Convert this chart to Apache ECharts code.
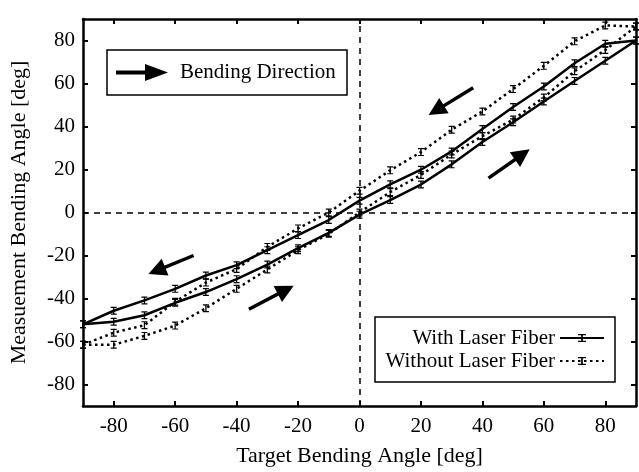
<!DOCTYPE html>
<html><head><meta charset="utf-8">
<script src="https://cdn.jsdelivr.net/npm/echarts@6/dist/echarts.min.js"></script>
<style>html,body{margin:0;padding:0;background:#fff}#c{width:639px;height:472px}</style>
</head><body><div id="c"></div>
<script>
// Target bending angles [deg]
const angles = [-90,-80,-70,-60,-50,-40,-30,-20,-10,0,10,20,30,40,50,60,70,80,90];
// With laser fiber: bending in + direction (lower branch) and - direction (upper branch)
const withFiberUp   = [-52,-50.8,-47.8,-42,-37,-31,-24.2,-16.6,-9.5,-1,5.8,13,22.4,32.8,42,51.6,61.2,70.6,80];
const withFiberDown = [-52,-45.7,-40.9,-35.5,-29.3,-24.5,-17.5,-10.5,-3.5,5.5,13.1,19.9,28.4,38.8,49.1,58.6,69.4,78.5,80];
// Without laser fiber
const withoutFiberUp   = [-61.5,-61.5,-57.4,-52.6,-44.5,-35.5,-26.5,-17.5,-9.9,0,9.5,17.5,27,35.5,43.2,53.5,65.7,75.6,86.5];
const withoutFiberDown = [-61.5,-55.9,-52.4,-41.5,-32.6,-26.3,-16,-7.4,0,10.1,19.6,28.1,38.5,47,57.4,68.2,79.6,87,86.5];
// Axis ticks
const xTicks = [-80,-60,-40,-20,0,20,40,60,80];
const yTicks = [-80,-60,-40,-20,0,20,40,60,80];
// Direction arrows [start, end] in data coordinates
const arrows = [
  [[37,58],[25,47.5]],
  [[42,16],[53,27]],
  [[-54,-20],[-66,-27]],
  [[-36,-45],[-24,-36]]
];
const names = ['With Laser Fiber','Without Laser Fiber'];

const FONT = '"Liberation Serif", "Times New Roman", serif';
const ibeam = 'path://M0,0H7V1.5H4.25V8.5H7V10H0V8.5H2.75V1.5H0Z';
const pair = (ys) => angles.map((a,i)=>[a, ys[i]]);

const axisCommon = {
  type:'value', min:-90, max:90,
  axisLine:{show:true, onZero:false, lineStyle:{color:'#000', width:2.5}},
  splitLine:{show:false}
};
function mkX(pos, show){
  return Object.assign({}, axisCommon, {
    position:pos,
    axisTick:{show:true, inside:true, length:5, customValues:xTicks, lineStyle:{color:'#000', width:2}},
    axisLabel:{show:show, customValues:xTicks, fontFamily:FONT, fontSize:21, color:'#000', margin:10},
    name: show ? 'Target Bending Angle [deg]' : '',
    nameLocation:'middle', nameGap:39,
    nameTextStyle:{fontFamily:FONT, fontSize:22, color:'#000'}
  });
}
function mkY(pos, show){
  return Object.assign({}, axisCommon, {
    position:pos,
    axisTick:{show:true, inside:true, length:5, customValues:yTicks, lineStyle:{color:'#000', width:2}},
    axisLabel:{show:show, customValues:yTicks, fontFamily:FONT, fontSize:21, color:'#000', margin:8},
    name: show ? 'Measuement Bending Angle [deg]' : '',
    nameLocation:'middle', nameGap:53,
    nameTextStyle:{fontFamily:FONT, fontSize:22, color:'#000'}
  });
}

function lineSeries(name, ys, dotted){
  return {
    type:'line', name:name, data:pair(ys),
    symbol:ibeam, symbolSize:[6,8], showAllSymbol:true,
    itemStyle:{color:'#000'},
    lineStyle:{color:'#000', width:2.5, type: dotted ? [2.5,3.5] : 'solid'},
    emphasis:{disabled:true}, animation:false, z:3
  };
}

const series = [
  lineSeries(names[0], withFiberUp, false),
  lineSeries(names[0], withFiberDown, false),
  lineSeries(names[1], withoutFiberUp, true),
  lineSeries(names[1], withoutFiberDown, true)
];
series[0].markLine = {
  silent:true, symbol:'none', label:{show:false}, animation:false,
  lineStyle:{color:'#000', width:1.5, type:[6,5]},
  data:[{xAxis:0},{yAxis:0}]
};
series[1].markLine = {
  silent:true, symbol:['none','triangle'], symbolSize:18, label:{show:false}, animation:false,
  lineStyle:{color:'#000', width:3.5, type:'solid'},
  data: arrows.map(a => [{coord:a[0]},{coord:a[1]}])
};

const chart = echarts.init(document.getElementById('c'), null, {renderer:'canvas'});
chart.setOption({
  animation:false,
  backgroundColor:'#fff',
  grid:{left:81, right:3, top:19, bottom:64},
  xAxis:[mkX('bottom', true), mkX('top', false)],
  yAxis:[mkY('left', true), mkY('right', false)],
  legend:{
    data:names, orient:'vertical', left:375, top:317, align:'right',
    itemWidth:44, itemHeight:10, itemGap:1, padding:[10,10,10,8],
    borderColor:'#000', borderWidth:1.5, selectedMode:false,
    textStyle:{fontFamily:FONT, fontSize:21, lineHeight:22, color:'#000', width:172, align:'right'}
  },
  graphic:[
    {type:'rect', shape:{x:107, y:50, width:240, height:45}, style:{fill:'none', stroke:'#000', lineWidth:1.5}},
    {type:'line', shape:{x1:116, y1:72.5, x2:150, y2:72.5}, style:{stroke:'#000', lineWidth:4}},
    {type:'polygon', shape:{points:[[145,64],[168,72.5],[145,81]]}, style:{fill:'#000'}},
    {type:'text', x:180, y:72.5, style:{text:'Bending Direction', verticalAlign:'middle', font:'21px ' + FONT, fill:'#000'}}
  ],
  series:series
});
</script></body></html>
